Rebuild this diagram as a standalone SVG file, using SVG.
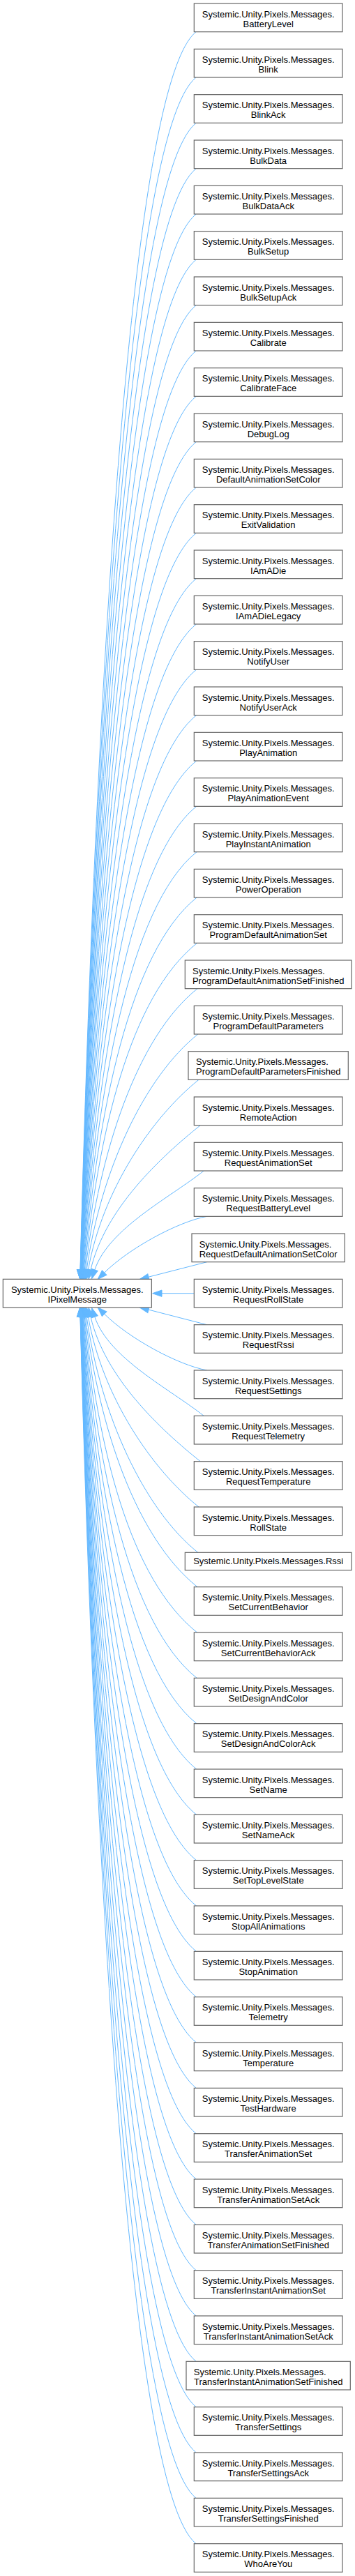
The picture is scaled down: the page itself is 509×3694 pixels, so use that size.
<svg xmlns="http://www.w3.org/2000/svg" width="509" height="3694" viewBox="0 0 509 3694">
<style>
.b{fill:#fff;stroke:#666;stroke-width:1.2}
text{font-family:"Liberation Sans",Arial,Helvetica,sans-serif;font-size:13px;fill:#000;text-anchor:middle}
text.l{text-anchor:start}
.e path{fill:none;stroke:#63b8ff;stroke-width:1;marker-end:url(#ah)}
</style>
<defs>
<marker id="ah" markerUnits="userSpaceOnUse" viewBox="0 0 13.33 9.33" markerWidth="13.33" markerHeight="9.33" refX="0" refY="4.67" orient="auto" overflow="visible">
<path d="M0,0 L13.33,4.67 L0,9.33 Z" fill="#63b8ff" stroke="#63b8ff" stroke-width="1"/>
</marker>
</defs>
<rect width="509" height="3694" fill="#fff"/>
<g id="edges" class="e">
<path d="M281.1,45.7 C181.5,125.4 135,1075.4 115,1821"/>
<path d="M281.1,111 C181.5,190.7 135.1,1102.8 115.1,1821"/>
<path d="M281.2,176.3 C181.6,256 135.2,1130.2 115.2,1821"/>
<path d="M281.2,241.7 C181.6,321.3 135.3,1157.7 115.3,1821"/>
<path d="M281.2,307 C181.7,386.6 135.4,1185.1 115.4,1821"/>
<path d="M281.2,372.3 C181.8,451.8 135.5,1212.6 115.5,1821"/>
<path d="M281.2,437.7 C181.9,517.1 135.7,1240 115.7,1821"/>
<path d="M281.2,503 C182,582.4 135.8,1267.4 115.8,1821"/>
<path d="M281.3,568.3 C182.1,647.6 136,1294.9 116,1821"/>
<path d="M281.3,633.7 C182.2,712.9 136.2,1322.3 116.2,1821"/>
<path d="M281.3,699 C182.4,778.2 136.4,1349.8 116.4,1821"/>
<path d="M281.4,764.3 C182.5,843.4 136.6,1377.2 116.6,1821"/>
<path d="M281.4,829.7 C182.7,908.6 136.9,1404.6 116.9,1821"/>
<path d="M281.4,895 C182.9,973.9 137.2,1432.1 117.2,1821"/>
<path d="M281.5,960.3 C183.1,1039 137.5,1459.5 117.5,1821"/>
<path d="M281.6,1025.7 C183.4,1104.3 137.9,1487 117.9,1821"/>
<path d="M281.7,1091 C183.7,1169.4 138.3,1514.4 118.3,1821"/>
<path d="M281.8,1156.3 C184.1,1234.5 138.9,1541.8 118.9,1821"/>
<path d="M282,1221.7 C184.5,1299.7 139.5,1569.3 119.5,1821"/>
<path d="M282.2,1287 C185.1,1364.7 140.3,1596.7 120.3,1821"/>
<path d="M282.6,1352.3 C185.8,1429.7 141.3,1624.2 121.3,1821"/>
<path d="M283,1417.7 C196.4,1487 142.5,1651.6 122.5,1821"/>
<path d="M283.8,1483 C207.2,1544.3 144.2,1679 124.2,1821"/>
<path d="M285,1548.3 C218.4,1601.6 146.5,1706.5 126.5,1821"/>
<path d="M287.3,1613.7 C230.6,1659 150,1733.9 130,1821"/>
<path d="M292.1,1679 C245.2,1716.5 155.8,1761.4 135.8,1821"/>
<path d="M296.7,1744.3 C255,1752 185,1790 149.6,1825.1"/>
<path d="M296.7,1809.7 L213,1831.2"/>
<path d="M278.3,1854.7 L232,1854.7"/>
<path d="M296.7,1899.7 L213,1878.1"/>
<path d="M296.7,1965 C255,1957.3 185,1919.3 149.6,1884.2"/>
<path d="M292.1,2030.3 C245.2,1992.8 155.8,1948 135.8,1888.3"/>
<path d="M287.3,2095.7 C230.6,2050.4 150,1975.4 130,1888.3"/>
<path d="M285,2161 C218.4,2107.7 146.5,2002.9 126.5,1888.3"/>
<path d="M283.8,2226.3 C207.2,2165 144.2,2030.3 124.2,1888.3"/>
<path d="M283,2275.7 C196.4,2206.3 142.5,2051 122.5,1888.3"/>
<path d="M282.6,2341 C185.8,2263.6 141.3,2078.5 121.3,1888.3"/>
<path d="M282.2,2406.3 C185.1,2328.6 140.3,2105.9 120.3,1888.3"/>
<path d="M282,2471.7 C184.5,2393.7 139.5,2133.3 119.5,1888.3"/>
<path d="M281.8,2537 C184.1,2458.8 138.9,2160.8 118.9,1888.3"/>
<path d="M281.7,2602.3 C183.7,2523.9 138.3,2188.2 118.3,1888.3"/>
<path d="M281.6,2667.7 C183.4,2589.1 137.9,2215.7 117.9,1888.3"/>
<path d="M281.5,2733 C183.1,2654.3 137.5,2243.1 117.5,1888.3"/>
<path d="M281.4,2798.3 C182.9,2719.5 137.2,2270.5 117.2,1888.3"/>
<path d="M281.4,2863.7 C182.7,2784.7 136.9,2298 116.9,1888.3"/>
<path d="M281.4,2929 C182.5,2849.9 136.6,2325.4 116.6,1888.3"/>
<path d="M281.3,2994.3 C182.4,2915.1 136.4,2352.9 116.4,1888.3"/>
<path d="M281.3,3059.7 C182.2,2980.4 136.2,2380.3 116.2,1888.3"/>
<path d="M281.3,3125 C182.1,3045.7 136,2407.7 116,1888.3"/>
<path d="M281.2,3190.3 C182,3110.9 135.8,2435.2 115.8,1888.3"/>
<path d="M281.2,3255.7 C181.9,3176.2 135.7,2462.6 115.7,1888.3"/>
<path d="M281.2,3321 C181.8,3241.5 135.5,2490 115.5,1888.3"/>
<path d="M281.2,3386.3 C181.7,3306.7 135.4,2517.5 115.4,1888.3"/>
<path d="M281.2,3451.7 C181.6,3372.1 135.3,2544.9 115.3,1888.3"/>
<path d="M281.2,3517 C181.6,3437.3 135.2,2572.4 115.2,1888.3"/>
<path d="M281.1,3582.3 C181.5,3502.6 135.1,2599.8 115.1,1888.3"/>
<path d="M281.1,3647.7 C181.5,3568 135,2627.3 115,1888.3"/>
</g>
<g id="n0" transform="translate(0,1834.33)"><rect class="b" x="4.33" width="213" height="40.67"/><text x="110.8" y="19.5">Systemic.Unity.Pixels.Messages.</text><text x="110.8" y="33.5">IPixelMessage</text></g>
<g id="n1" transform="translate(0,5)"><rect class="b" x="278.3" width="212.7" height="40.67"/><text x="384.7" y="19.5">Systemic.Unity.Pixels.Messages.</text><text x="384.7" y="33.5">BatteryLevel</text></g>
<g id="n2" transform="translate(0,70.33)"><rect class="b" x="278.3" width="212.7" height="40.67"/><text x="384.7" y="19.5">Systemic.Unity.Pixels.Messages.</text><text x="384.7" y="33.5">Blink</text></g>
<g id="n3" transform="translate(0,135.67)"><rect class="b" x="278.3" width="212.7" height="40.67"/><text x="384.7" y="19.5">Systemic.Unity.Pixels.Messages.</text><text x="384.7" y="33.5">BlinkAck</text></g>
<g id="n4" transform="translate(0,201)"><rect class="b" x="278.3" width="212.7" height="40.67"/><text x="384.7" y="19.5">Systemic.Unity.Pixels.Messages.</text><text x="384.7" y="33.5">BulkData</text></g>
<g id="n5" transform="translate(0,266.33)"><rect class="b" x="278.3" width="212.7" height="40.67"/><text x="384.7" y="19.5">Systemic.Unity.Pixels.Messages.</text><text x="384.7" y="33.5">BulkDataAck</text></g>
<g id="n6" transform="translate(0,331.67)"><rect class="b" x="278.3" width="212.7" height="40.67"/><text x="384.7" y="19.5">Systemic.Unity.Pixels.Messages.</text><text x="384.7" y="33.5">BulkSetup</text></g>
<g id="n7" transform="translate(0,397)"><rect class="b" x="278.3" width="212.7" height="40.67"/><text x="384.7" y="19.5">Systemic.Unity.Pixels.Messages.</text><text x="384.7" y="33.5">BulkSetupAck</text></g>
<g id="n8" transform="translate(0,462.33)"><rect class="b" x="278.3" width="212.7" height="40.67"/><text x="384.7" y="19.5">Systemic.Unity.Pixels.Messages.</text><text x="384.7" y="33.5">Calibrate</text></g>
<g id="n9" transform="translate(0,527.67)"><rect class="b" x="278.3" width="212.7" height="40.67"/><text x="384.7" y="19.5">Systemic.Unity.Pixels.Messages.</text><text x="384.7" y="33.5">CalibrateFace</text></g>
<g id="n10" transform="translate(0,593)"><rect class="b" x="278.3" width="212.7" height="40.67"/><text x="384.7" y="19.5">Systemic.Unity.Pixels.Messages.</text><text x="384.7" y="33.5">DebugLog</text></g>
<g id="n11" transform="translate(0,658.33)"><rect class="b" x="278.3" width="212.7" height="40.67"/><text x="384.7" y="19.5">Systemic.Unity.Pixels.Messages.</text><text x="384.7" y="33.5">DefaultAnimationSetColor</text></g>
<g id="n12" transform="translate(0,723.67)"><rect class="b" x="278.3" width="212.7" height="40.67"/><text x="384.7" y="19.5">Systemic.Unity.Pixels.Messages.</text><text x="384.7" y="33.5">ExitValidation</text></g>
<g id="n13" transform="translate(0,789)"><rect class="b" x="278.3" width="212.7" height="40.67"/><text x="384.7" y="19.5">Systemic.Unity.Pixels.Messages.</text><text x="384.7" y="33.5">IAmADie</text></g>
<g id="n14" transform="translate(0,854.33)"><rect class="b" x="278.3" width="212.7" height="40.67"/><text x="384.7" y="19.5">Systemic.Unity.Pixels.Messages.</text><text x="384.7" y="33.5">IAmADieLegacy</text></g>
<g id="n15" transform="translate(0,919.67)"><rect class="b" x="278.3" width="212.7" height="40.67"/><text x="384.7" y="19.5">Systemic.Unity.Pixels.Messages.</text><text x="384.7" y="33.5">NotifyUser</text></g>
<g id="n16" transform="translate(0,985)"><rect class="b" x="278.3" width="212.7" height="40.67"/><text x="384.7" y="19.5">Systemic.Unity.Pixels.Messages.</text><text x="384.7" y="33.5">NotifyUserAck</text></g>
<g id="n17" transform="translate(0,1050.33)"><rect class="b" x="278.3" width="212.7" height="40.67"/><text x="384.7" y="19.5">Systemic.Unity.Pixels.Messages.</text><text x="384.7" y="33.5">PlayAnimation</text></g>
<g id="n18" transform="translate(0,1115.67)"><rect class="b" x="278.3" width="212.7" height="40.67"/><text x="384.7" y="19.5">Systemic.Unity.Pixels.Messages.</text><text x="384.7" y="33.5">PlayAnimationEvent</text></g>
<g id="n19" transform="translate(0,1181)"><rect class="b" x="278.3" width="212.7" height="40.67"/><text x="384.7" y="19.5">Systemic.Unity.Pixels.Messages.</text><text x="384.7" y="33.5">PlayInstantAnimation</text></g>
<g id="n20" transform="translate(0,1246.33)"><rect class="b" x="278.3" width="212.7" height="40.67"/><text x="384.7" y="19.5">Systemic.Unity.Pixels.Messages.</text><text x="384.7" y="33.5">PowerOperation</text></g>
<g id="n21" transform="translate(0,1311.67)"><rect class="b" x="278.3" width="212.7" height="40.67"/><text x="384.7" y="19.5">Systemic.Unity.Pixels.Messages.</text><text x="384.7" y="33.5">ProgramDefaultAnimationSet</text></g>
<g id="n22" transform="translate(0,1377)"><rect class="b" x="265.3" width="238.7" height="40.67"/><text class="l" x="276" y="19.5">Systemic.Unity.Pixels.Messages.</text><text x="384.7" y="33.5">ProgramDefaultAnimationSetFinished</text></g>
<g id="n23" transform="translate(0,1442.33)"><rect class="b" x="278.3" width="212.7" height="40.67"/><text x="384.7" y="19.5">Systemic.Unity.Pixels.Messages.</text><text x="384.7" y="33.5">ProgramDefaultParameters</text></g>
<g id="n24" transform="translate(0,1507.67)"><rect class="b" x="270" width="229.3" height="40.67"/><text class="l" x="281" y="19.5">Systemic.Unity.Pixels.Messages.</text><text x="384.7" y="33.5">ProgramDefaultParametersFinished</text></g>
<g id="n25" transform="translate(0,1573)"><rect class="b" x="278.3" width="212.7" height="40.67"/><text x="384.7" y="19.5">Systemic.Unity.Pixels.Messages.</text><text x="384.7" y="33.5">RemoteAction</text></g>
<g id="n26" transform="translate(0,1638.33)"><rect class="b" x="278.3" width="212.7" height="40.67"/><text x="384.7" y="19.5">Systemic.Unity.Pixels.Messages.</text><text x="384.7" y="33.5">RequestAnimationSet</text></g>
<g id="n27" transform="translate(0,1703.67)"><rect class="b" x="278.3" width="212.7" height="40.67"/><text x="384.7" y="19.5">Systemic.Unity.Pixels.Messages.</text><text x="384.7" y="33.5">RequestBatteryLevel</text></g>
<g id="n28" transform="translate(0,1769)"><rect class="b" x="275" width="219.3" height="40.67"/><text class="l" x="285.7" y="19.5">Systemic.Unity.Pixels.Messages.</text><text x="384.7" y="33.5">RequestDefaultAnimationSetColor</text></g>
<g id="n29" transform="translate(0,1834.33)"><rect class="b" x="278.3" width="212.7" height="40.67"/><text x="384.7" y="19.5">Systemic.Unity.Pixels.Messages.</text><text x="384.7" y="33.5">RequestRollState</text></g>
<g id="n30" transform="translate(0,1899.67)"><rect class="b" x="278.3" width="212.7" height="40.67"/><text x="384.7" y="19.5">Systemic.Unity.Pixels.Messages.</text><text x="384.7" y="33.5">RequestRssi</text></g>
<g id="n31" transform="translate(0,1965)"><rect class="b" x="278.3" width="212.7" height="40.67"/><text x="384.7" y="19.5">Systemic.Unity.Pixels.Messages.</text><text x="384.7" y="33.5">RequestSettings</text></g>
<g id="n32" transform="translate(0,2030.33)"><rect class="b" x="278.3" width="212.7" height="40.67"/><text x="384.7" y="19.5">Systemic.Unity.Pixels.Messages.</text><text x="384.7" y="33.5">RequestTelemetry</text></g>
<g id="n33" transform="translate(0,2095.67)"><rect class="b" x="278.3" width="212.7" height="40.67"/><text x="384.7" y="19.5">Systemic.Unity.Pixels.Messages.</text><text x="384.7" y="33.5">RequestTemperature</text></g>
<g id="n34" transform="translate(0,2161)"><rect class="b" x="278.3" width="212.7" height="40.67"/><text x="384.7" y="19.5">Systemic.Unity.Pixels.Messages.</text><text x="384.7" y="33.5">RollState</text></g>
<g id="n35" transform="translate(0,2226.33)"><rect class="b" x="265.3" width="238.7" height="25.33"/><text x="384.7" y="17">Systemic.Unity.Pixels.Messages.Rssi</text></g>
<g id="n36" transform="translate(0,2275.67)"><rect class="b" x="278.3" width="212.7" height="40.67"/><text x="384.7" y="19.5">Systemic.Unity.Pixels.Messages.</text><text x="384.7" y="33.5">SetCurrentBehavior</text></g>
<g id="n37" transform="translate(0,2341)"><rect class="b" x="278.3" width="212.7" height="40.67"/><text x="384.7" y="19.5">Systemic.Unity.Pixels.Messages.</text><text x="384.7" y="33.5">SetCurrentBehaviorAck</text></g>
<g id="n38" transform="translate(0,2406.33)"><rect class="b" x="278.3" width="212.7" height="40.67"/><text x="384.7" y="19.5">Systemic.Unity.Pixels.Messages.</text><text x="384.7" y="33.5">SetDesignAndColor</text></g>
<g id="n39" transform="translate(0,2471.67)"><rect class="b" x="278.3" width="212.7" height="40.67"/><text x="384.7" y="19.5">Systemic.Unity.Pixels.Messages.</text><text x="384.7" y="33.5">SetDesignAndColorAck</text></g>
<g id="n40" transform="translate(0,2537)"><rect class="b" x="278.3" width="212.7" height="40.67"/><text x="384.7" y="19.5">Systemic.Unity.Pixels.Messages.</text><text x="384.7" y="33.5">SetName</text></g>
<g id="n41" transform="translate(0,2602.33)"><rect class="b" x="278.3" width="212.7" height="40.67"/><text x="384.7" y="19.5">Systemic.Unity.Pixels.Messages.</text><text x="384.7" y="33.5">SetNameAck</text></g>
<g id="n42" transform="translate(0,2667.67)"><rect class="b" x="278.3" width="212.7" height="40.67"/><text x="384.7" y="19.5">Systemic.Unity.Pixels.Messages.</text><text x="384.7" y="33.5">SetTopLevelState</text></g>
<g id="n43" transform="translate(0,2733)"><rect class="b" x="278.3" width="212.7" height="40.67"/><text x="384.7" y="19.5">Systemic.Unity.Pixels.Messages.</text><text x="384.7" y="33.5">StopAllAnimations</text></g>
<g id="n44" transform="translate(0,2798.33)"><rect class="b" x="278.3" width="212.7" height="40.67"/><text x="384.7" y="19.5">Systemic.Unity.Pixels.Messages.</text><text x="384.7" y="33.5">StopAnimation</text></g>
<g id="n45" transform="translate(0,2863.67)"><rect class="b" x="278.3" width="212.7" height="40.67"/><text x="384.7" y="19.5">Systemic.Unity.Pixels.Messages.</text><text x="384.7" y="33.5">Telemetry</text></g>
<g id="n46" transform="translate(0,2929)"><rect class="b" x="278.3" width="212.7" height="40.67"/><text x="384.7" y="19.5">Systemic.Unity.Pixels.Messages.</text><text x="384.7" y="33.5">Temperature</text></g>
<g id="n47" transform="translate(0,2994.33)"><rect class="b" x="278.3" width="212.7" height="40.67"/><text x="384.7" y="19.5">Systemic.Unity.Pixels.Messages.</text><text x="384.7" y="33.5">TestHardware</text></g>
<g id="n48" transform="translate(0,3059.67)"><rect class="b" x="278.3" width="212.7" height="40.67"/><text x="384.7" y="19.5">Systemic.Unity.Pixels.Messages.</text><text x="384.7" y="33.5">TransferAnimationSet</text></g>
<g id="n49" transform="translate(0,3125)"><rect class="b" x="278.3" width="212.7" height="40.67"/><text x="384.7" y="19.5">Systemic.Unity.Pixels.Messages.</text><text x="384.7" y="33.5">TransferAnimationSetAck</text></g>
<g id="n50" transform="translate(0,3190.33)"><rect class="b" x="278.3" width="212.7" height="40.67"/><text x="384.7" y="19.5">Systemic.Unity.Pixels.Messages.</text><text x="384.7" y="33.5">TransferAnimationSetFinished</text></g>
<g id="n51" transform="translate(0,3255.67)"><rect class="b" x="278.3" width="212.7" height="40.67"/><text x="384.7" y="19.5">Systemic.Unity.Pixels.Messages.</text><text x="384.7" y="33.5">TransferInstantAnimationSet</text></g>
<g id="n52" transform="translate(0,3321)"><rect class="b" x="278.3" width="212.7" height="40.67"/><text x="384.7" y="19.5">Systemic.Unity.Pixels.Messages.</text><text x="384.7" y="33.5">TransferInstantAnimationSetAck</text></g>
<g id="n53" transform="translate(0,3386.33)"><rect class="b" x="267" width="235.3" height="40.67"/><text class="l" x="277.8" y="19.5">Systemic.Unity.Pixels.Messages.</text><text x="384.7" y="33.5">TransferInstantAnimationSetFinished</text></g>
<g id="n54" transform="translate(0,3451.67)"><rect class="b" x="278.3" width="212.7" height="40.67"/><text x="384.7" y="19.5">Systemic.Unity.Pixels.Messages.</text><text x="384.7" y="33.5">TransferSettings</text></g>
<g id="n55" transform="translate(0,3517)"><rect class="b" x="278.3" width="212.7" height="40.67"/><text x="384.7" y="19.5">Systemic.Unity.Pixels.Messages.</text><text x="384.7" y="33.5">TransferSettingsAck</text></g>
<g id="n56" transform="translate(0,3582.33)"><rect class="b" x="278.3" width="212.7" height="40.67"/><text x="384.7" y="19.5">Systemic.Unity.Pixels.Messages.</text><text x="384.7" y="33.5">TransferSettingsFinished</text></g>
<g id="n57" transform="translate(0,3647.67)"><rect class="b" x="278.3" width="212.7" height="40.67"/><text x="384.7" y="19.5">Systemic.Unity.Pixels.Messages.</text><text x="384.7" y="33.5">WhoAreYou</text></g>
</svg>
